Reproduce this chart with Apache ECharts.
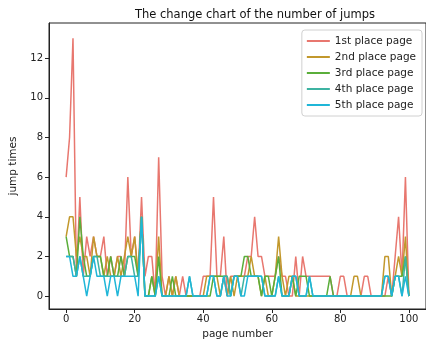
<!DOCTYPE html>
<html>
<head>
<meta charset="utf-8">
<script src="https://cdn.jsdelivr.net/npm/echarts@6/dist/echarts.min.js"></script>
<style>
  html, body { margin: 0; padding: 0; background: #fff; }
  #chart { width: 426px; height: 345px; }
</style>
</head>
<body>
<div id="chart"></div>
<script>
var seriesNames = ['1st place page', '2nd place page', '3rd place page', '4th place page', '5th place page'];
var seriesColors = ['#e8776f', '#c2982c', '#5aae3a', '#3db3a2', '#1fb6d8'];

// jump times per page number 0..100
var place1 = [6,8,13,1,5,1,3,2,3,2, 2,3,1,2,1,2,2,1,6,2, 3,1,5,1,2,2,0,7,1,0,
              1,0,1,0,1,0,0,0,0,0, 1,1,1,5,1,1,3,0,1,1, 1,1,1,2,2,4,2,2,1,1,
              1,1,2,1,1,0,0,2,0,2, 1,1,1,1,1,1,1,1,0,0, 1,1,0,0,0,0,0,1,1,0,
              0,0,0,0,1,0,2,4,1,6, 0];
var place2 = [3,4,4,2,3,2,2,1,3,2, 2,1,2,1,1,2,1,2,3,2, 3,1,4,0,0,1,0,3,0,0,
              1,0,1,0,0,0,0,0,0,0, 0,1,1,1,1,0,1,0,1,0, 1,1,1,1,2,1,1,0,1,0,
              0,1,3,1,0,1,1,0,0,0, 0,0,0,0,0,0,0,0,0,0, 0,0,0,0,1,1,0,0,0,0,
              0,0,0,2,2,0,1,2,1,3, 0];
var place3 = [3,2,2,1,4,2,1,1,2,2, 2,1,1,2,1,1,2,1,2,2, 2,1,4,0,0,1,0,2,0,0,
              0,1,0,0,0,0,0,0,0,0, 0,0,0,1,1,1,1,1,0,1, 1,1,2,2,1,1,1,0,1,1,
              0,1,2,0,0,0,1,0,1,1, 1,0,0,0,0,0,0,1,0,0, 0,0,0,0,0,0,0,0,0,0,
              0,0,0,0,0,0,1,1,1,2, 0];
var place4 = [2,2,2,1,2,1,1,1,2,2, 1,1,1,1,1,1,1,1,2,2, 1,1,4,0,0,0,0,1,0,0,
              0,0,0,0,0,0,1,0,0,0, 0,0,1,1,0,0,1,1,0,1, 1,0,1,1,1,1,1,1,0,0,
              0,0,1,0,0,0,1,1,0,0, 0,1,0,0,0,0,0,0,0,0, 0,0,0,0,0,0,0,0,0,0,
              0,0,0,1,1,0,1,1,0,2, 0];
var place5 = [2,2,1,1,2,1,0,1,2,1, 1,1,0,1,1,0,1,1,1,1, 1,0,4,0,0,0,0,1,0,0,
              0,0,0,0,0,0,1,0,0,0, 0,0,1,1,0,0,1,0,0,1, 1,0,0,1,1,1,1,1,0,0,
              0,0,1,0,0,0,1,1,0,0, 0,1,0,0,0,0,0,0,0,0, 0,0,0,0,0,0,0,0,0,0,
              0,0,0,1,1,0,1,1,0,1, 0];
var xTicks = [0, 20, 40, 60, 80, 100];
var yTicks = [0, 2, 4, 6, 8, 10, 12];

var allData = [place1, place2, place3, place4, place5];

function toPairs(values) {
    var out = [];
    values.forEach(function (v, i) {
        out.push([i, v]);
    });
    return out;
}

var font = 'DejaVu Sans';
var myChart = echarts.init(document.getElementById('chart'), null, { renderer: 'canvas' });

var series = [];
allData.forEach(function (item, index) {
    series.push({
        name: seriesNames[index],
        type: 'line',
        data: toPairs(item),
        symbol: 'none',
        lineStyle: { width: 1.5, color: seriesColors[index] },
        itemStyle: { color: seriesColors[index] },
        animation: false
    });
});

var option = {
    animation: false,
    title: {
        text: 'The change chart of the number of jumps',
        left: 250,
        textAlign: 'center',
        top: 4,
        textStyle: { fontFamily: font, fontSize: 11.5, fontWeight: 'normal', color: '#111' }
    },
    legend: {
        orient: 'vertical',
        right: 4,
        top: 30,
        backgroundColor: '#fff',
        borderColor: '#d0d0d0',
        borderWidth: 1,
        borderRadius: 3,
        padding: [4, 6, 4, 5],
        itemGap: 2,
        itemWidth: 23,
        itemHeight: 2,
        icon: 'rect',
        data: seriesNames,
        textStyle: { fontFamily: font, fontSize: 10.5, color: '#222', lineHeight: 14 }
    },
    grid: {
        left: 46, right: 0, top: 23, bottom: 35,
        show: true, borderColor: '#222', borderWidth: 1, backgroundColor: 'transparent'
    },
    xAxis: {
        type: 'value',
        min: -5,
        max: 105,
        name: 'page number',
        nameLocation: 'middle',
        nameGap: 20,
        nameTextStyle: { fontFamily: font, fontSize: 10.5, color: '#222' },
        axisLine: { show: true, onZero: false, lineStyle: { color: '#222' } },
        axisTick: { show: true, length: 4, customValues: xTicks, lineStyle: { color: '#222' } },
        axisLabel: { customValues: xTicks, fontFamily: font, fontSize: 10, color: '#222', margin: 5 },
        splitLine: { show: false }
    },
    yAxis: {
        type: 'value',
        min: -0.65,
        max: 13.77,
        name: 'jump times',
        nameLocation: 'middle',
        nameGap: 30,
        nameTextStyle: { fontFamily: font, fontSize: 10.5, color: '#222' },
        axisLine: { show: true, onZero: false, lineStyle: { color: '#222' } },
        axisTick: { show: true, length: 4, customValues: yTicks, lineStyle: { color: '#222' } },
        axisLabel: { customValues: yTicks, fontFamily: font, fontSize: 10, color: '#222', margin: 6 },
        splitLine: { show: false }
    },
    series: series
};

myChart.setOption(option);
</script>
</body>
</html>
